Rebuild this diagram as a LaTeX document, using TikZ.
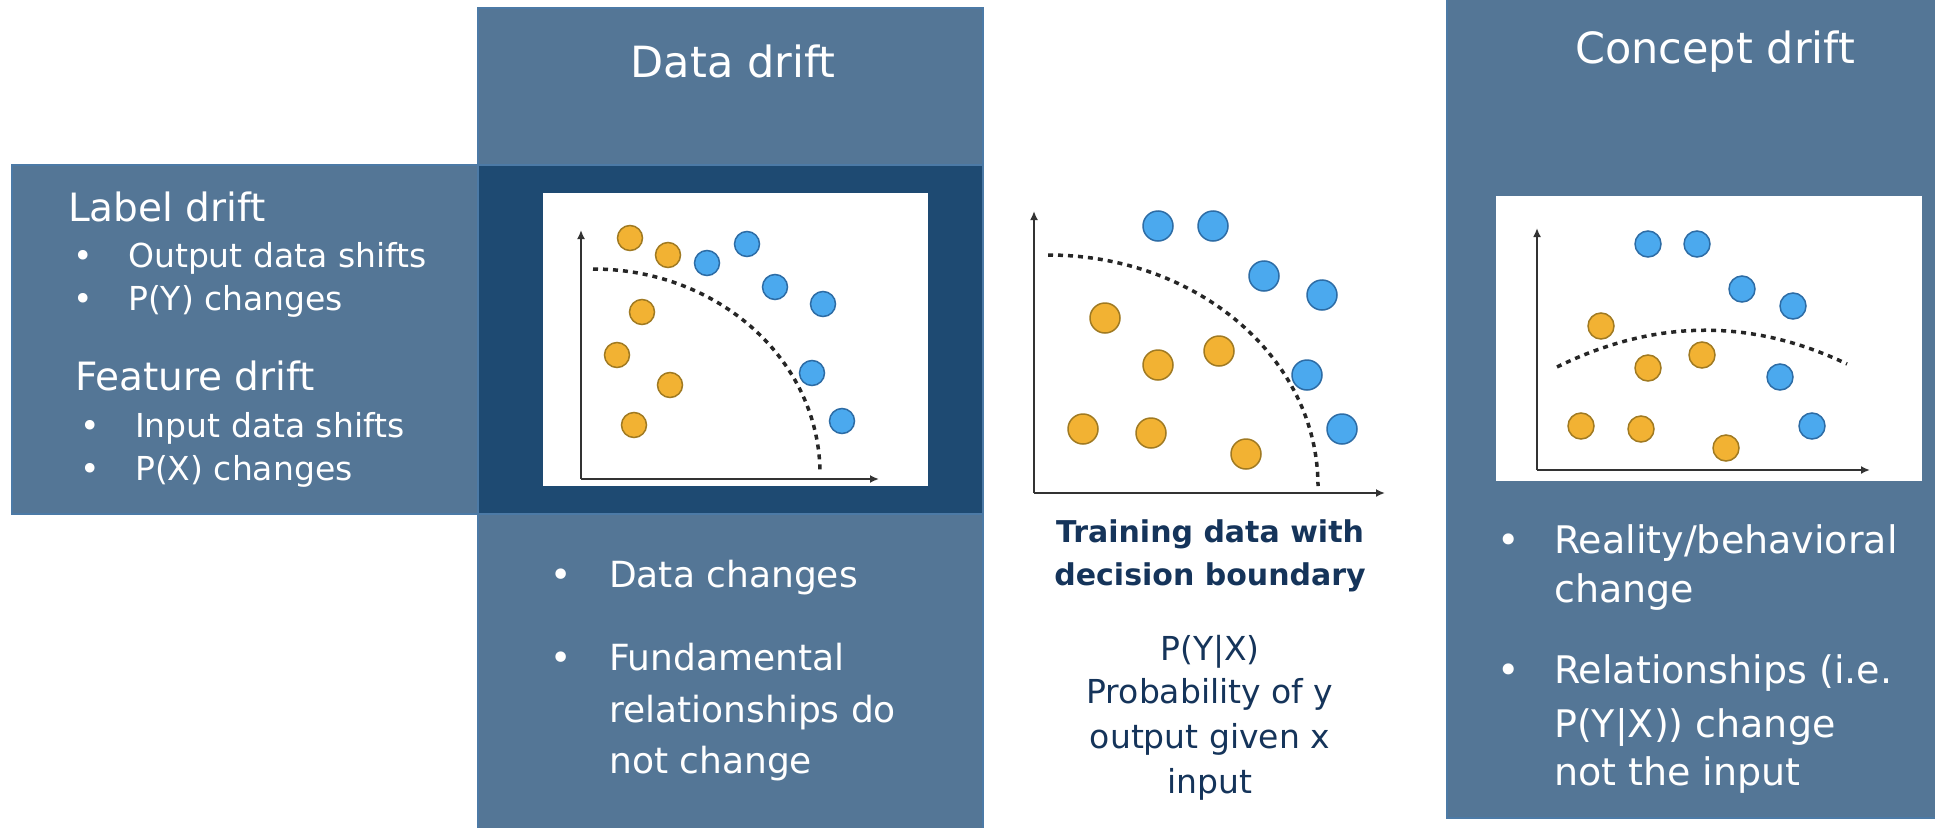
\documentclass[tikz,border=0pt]{standalone}
\usepackage{fontspec}
\setmainfont{DejaVu Sans}
\usetikzlibrary{arrows.meta}
\definecolor{midblue}{HTML}{547696}
\definecolor{darkpanel}{HTML}{1E4A72}
\definecolor{edgeblue}{HTML}{4C7AA6}
\definecolor{navy}{HTML}{15345A}
\definecolor{dotorange}{HTML}{F2B233}
\definecolor{dotorangeedge}{HTML}{A07A22}
\definecolor{dotblue}{HTML}{4BA9EE}
\definecolor{dotblueedge}{HTML}{2D6CA5}
\definecolor{axisgray}{HTML}{333333}
\newcommand{\myfs}[1]{\fontsize{#1}{#1}\selectfont}
\begin{document}
\begin{tikzpicture}[x=1pt,y=-1pt,
  panel/.style={draw=edgeblue,line width=1.5pt,inner sep=0pt,outer sep=0pt,anchor=north west},
  wtxt/.style={text=white,inner sep=0pt,anchor=base west},
  ntxt/.style={text=navy,inner sep=0pt,anchor=base},
  axisline/.style={draw=axisgray,line width=2pt,-{Latex[length=9pt,width=8pt]}},
  boundary/.style={draw=black!85,line width=3.5pt,dash pattern=on 5pt off 5pt},
  odot/.style={circle,fill=dotorange,draw=dotorangeedge,line width=1.5pt,inner sep=0pt,minimum size=#1},
  bdot/.style={circle,fill=dotblue,draw=dotblueedge,line width=1.5pt,inner sep=0pt,minimum size=#1}
]
\useasboundingbox[fill=white] (0,0) rectangle (1935,827);

% ---------- left box ----------
\node[panel,fill=midblue,minimum width=466pt,minimum height=349pt] (leftbox) at (12,165) {};
\node[wtxt,font=\myfs{39}] (lbl) at (68,221) {Label drift};
\node[wtxt,font=\myfs{33}] (lb1) at (73,267) {•};
\node[wtxt,font=\myfs{33}] (lt1) at (128,267) {Output data shifts};
\node[wtxt,font=\myfs{33}] (lb2) at (73,310) {•};
\node[wtxt,font=\myfs{33}] (lt2) at (128,310) {P(Y) changes};
\node[wtxt,font=\myfs{39}] (fea) at (75,390) {Feature drift};
\node[wtxt,font=\myfs{33}] (fb1) at (80,437) {•};
\node[wtxt,font=\myfs{33}] (ft1) at (135,437) {Input data shifts};
\node[wtxt,font=\myfs{33}] (fb2) at (80,480) {•};
\node[wtxt,font=\myfs{33}] (ft2) at (135,480) {P(X) changes};

% ---------- data drift column ----------
\node[panel,fill=midblue,minimum width=505pt,minimum height=822pt] (datacol) at (478,8) {};
\node[panel,fill=darkpanel,minimum width=505pt,minimum height=349pt] (dark) at (478,165) {};
\node[inner sep=0pt,outer sep=0pt,anchor=north west,fill=white,minimum width=385pt,minimum height=293pt] (dimg) at (543,193) {};
\node[text=white,inner sep=0pt,anchor=base,font=\myfs{43}] (dtitle) at (733,77) {Data drift};

% data drift plot
\coordinate (da0) at (581,479);
\coordinate (day) at (581,230);
\coordinate (dax) at (879,479);
\draw[axisline] (da0) -- (day);
\draw[axisline] (da0) -- (dax);
\coordinate (dc0) at (593,269);
\coordinate (dc1) at (820,474);
\draw[boundary] (dc0) .. controls (718,269) and (820,360) .. (dc1);
\foreach \n/\x/\y in {1/630/238,2/668/255,3/642/312,4/617/355,5/670/385,6/634/425}
  \node[odot=25pt] (dao\n) at (\x,\y) {};
\foreach \n/\x/\y in {1/707/263,2/747/244,3/775/287,4/823/304,5/812/373,6/842/421}
  \node[bdot=25pt] (dab\n) at (\x,\y) {};

% data drift bullets
\node[wtxt,font=\myfs{36}] (db1) at (550,587) {•};
\node[wtxt,font=\myfs{36}] (dt1) at (609,587) {Data changes};
\node[wtxt,font=\myfs{36}] (db2) at (550,670) {•};
\node[wtxt,font=\myfs{36}] (dt2) at (609,670) {Fundamental};
\node[wtxt,font=\myfs{36}] (dt3) at (609,722) {relationships do};
\node[wtxt,font=\myfs{36}] (dt4) at (609,773) {not change};

% ---------- middle plot ----------
\coordinate (ma0) at (1034,493);
\coordinate (may) at (1034,211);
\coordinate (max) at (1385,493);
\draw[axisline] (ma0) -- (may);
\draw[axisline] (ma0) -- (max);
\coordinate (mc0) at (1048,255);
\coordinate (mc1) at (1318,486);
\draw[boundary] (mc0) .. controls (1197,255) and (1318,358) .. (mc1);
\foreach \n/\x/\y in {1/1105/318,2/1158/365,3/1219/351,4/1083/429,5/1151/433,6/1246/454}
  \node[odot=30pt] (mo\n) at (\x,\y) {};
\foreach \n/\x/\y in {1/1158/226,2/1213/226,3/1264/276,4/1322/295,5/1307/375,6/1342/429}
  \node[bdot=30pt] (mb\n) at (\x,\y) {};

\node[ntxt,font=\bfseries\myfs{30}] (m1) at (1210,542) {Training data with};
\node[ntxt,font=\bfseries\myfs{30}] (m2) at (1210,585) {decision boundary};
\node[ntxt,font=\myfs{33}] (m3) at (1210,660) {P(Y|X)};
\node[ntxt,font=\myfs{33}] (m4) at (1210,703) {Probability of y};
\node[ntxt,font=\myfs{33}] (m5) at (1210,748) {output given x};
\node[ntxt,font=\myfs{33}] (m6) at (1210,793) {input};

% ---------- concept drift column ----------
\node[panel,fill=midblue,minimum width=492pt,minimum height=820pt] (conccol) at (1447,-2) {};
\node[inner sep=0pt,outer sep=0pt,anchor=north west,fill=white,minimum width=426pt,minimum height=285pt] (cimg) at (1496,196) {};
\node[wtxt,font=\myfs{43}] (ctitle) at (1575,63) {Concept drift};

\coordinate (ca0) at (1537,470);
\coordinate (cay) at (1537,228);
\coordinate (cax) at (1870,470);
\draw[axisline] (ca0) -- (cay);
\draw[axisline] (ca0) -- (cax);
\coordinate (cc0) at (1557,367);
\coordinate (cc1) at (1847,364);
\draw[boundary] (cc0) .. controls (1654,319) and (1751,318) .. (cc1);
\foreach \n/\x/\y in {1/1601/326,2/1648/368,3/1702/355,4/1581/426,5/1641/429,6/1726/448}
  \node[odot=26pt] (co\n) at (\x,\y) {};
\foreach \n/\x/\y in {1/1648/244,2/1697/244,3/1742/289,4/1793/306,5/1780/377,6/1812/426}
  \node[bdot=26pt] (cb\n) at (\x,\y) {};

\node[wtxt,font=\myfs{38}] (cbl1) at (1497,553) {•};
\node[wtxt,font=\myfs{38}] (ct1) at (1554,553) {Reality/behavioral};
\node[wtxt,font=\myfs{38}] (ct2) at (1554,602) {change};
\node[wtxt,font=\myfs{38}] (cbl2) at (1497,683) {•};
\node[wtxt,font=\myfs{38}] (ct3) at (1554,683) {Relationships (i.e.};
\node[wtxt,font=\myfs{38}] (ct4) at (1554,737) {P(Y|X)) change};
\node[wtxt,font=\myfs{38}] (ct5) at (1554,785) {not the input};
\end{tikzpicture}
\end{document}
